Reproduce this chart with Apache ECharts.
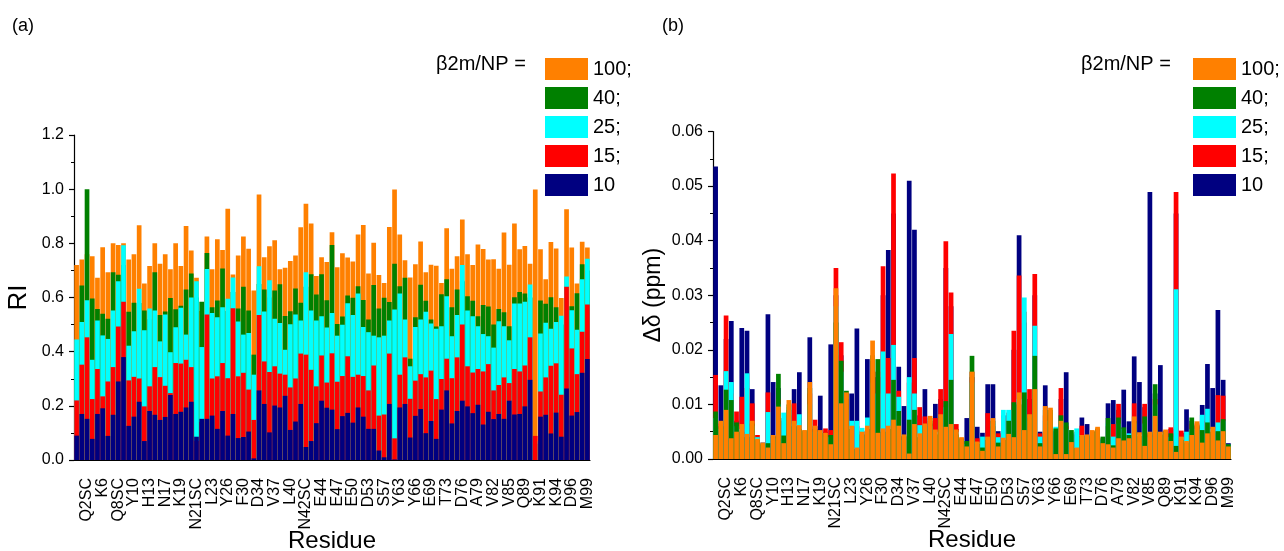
<!DOCTYPE html>
<html><head><meta charset="utf-8">
<script src="https://cdn.jsdelivr.net/npm/echarts@6/dist/echarts.min.js"></script>
<style>html,body{margin:0;padding:0;background:#fff}#c{width:1284px;height:551px}</style>
</head><body><div id="c"></div>
<script>
const categories = ['I1','Q2','Q2SC','R3','T4','K6','I7','Q8','Q8SC',"Q8SC'",'V9','Y10','S11','R12','H13','A15','E16','N17','N17SC','G18','K19','S20','N21','N21SC',"N21SC'",'F22','L23','N24','C25','Y26','V27','S28','F30','H31','S33','D34','I35','E36','V37','D38','L39','L40','K41','N42','N42SC',"N42SC'",'G43','E44','R45','I46','E47','K48','V49','E50','H51','S52','D53','L54','S55','S57','K58','W60','Y63','L64','L65','Y66','Y67','T68','E69','F70','T71','T73','E74','K75','D76','E77','Y78','A79','C80','R81','V82','N83','H84','V85','T86','L87','Q89','Q89SC','N24SC','K91','I92','V93','K94','W95','W95SC','D96','R97','D98','M99'];
const seriesNames = ['100','40','25','15','10'];
const riTicks = [0, 1.2, 0.2];
const ddTicks = [0, 0.06, 0.01];

// Panel (a): RI
const ri100 = [0.72,0.74,0.76,0.752,0.673,0.786,0.693,0.80,0.794,0.80, 0.74,0.76,0.867,0.652,0.716,0.80,0.725,0.76,0.704,0.80, 0.716,0.864,0.774,0.673,0.55,0.825,0.704,0.815,0.775,0.928, 0.685,0.755,0.825,0.78,0.626,0.98,0.749,0.789,0.811,0.704, 0.71,0.735,0.755,0.859,0.946,0.873,0.679,0.749,0.731,0.841, 0.712,0.763,0.748,0.733,0.833,0.868,0.689,0.802,0.683,0.654, 0.86,0.999,0.833,0.738,0.674,0.723,0.807,0.693,0.721,0.717, 0.654,0.856,0.706,0.752,0.888,0.76,0.72,0.796,0.779,0.74, 0.741,0.706,0.84,0.721,0.873,0.778,0.79,0.725,0.999,0.778, 0.667,0.805,0.781,0.598,0.926,0.785,0.652,0.806,0.785];
const ri40 = [0.40,0.644,1.00,0.596,0.558,0.54,0.522,0.693,0.684,0.72, 0.547,0.581,0.58,0.552,0.52,0.693,0.535,0.548,0.598,0.557, 0.57,0.63,0.689,0.6,0.584,0.764,0.564,0.589,0.707,0.55, 0.62,0.559,0.64,0.552,0.389,0.65,0.63,0.6,0.626,0.649, 0.532,0.549,0.633,0.581,0.64,0.686,0.611,0.686,0.59,0.794, 0.502,0.53,0.607,0.599,0.642,0.591,0.519,0.646,0.559,0.599, 0.583,0.725,0.642,0.673,0.374,0.527,0.647,0.588,0.519,0.493, 0.612,0.667,0.564,0.63,0.66,0.605,0.588,0.531,0.572,0.567, 0.5,0.558,0.546,0.494,0.601,0.62,0.615,0.6,0.06,0.589, 0.577,0.601,0.564,0.5,0.6,0.568,0.616,0.723,0.7];
const ri25 = [0.445,0.51,0.59,0.37,0.515,0.46,0.447,0.552,0.66,0.793, 0.422,0.475,0.632,0.479,0.559,0.552,0.438,0.537,0.398,0.49, 0.562,0.463,0.60,0.66,0.417,0.705,0.543,0.527,0.564,0.595, 0.674,0.511,0.463,0.469,0.315,0.715,0.548,0.664,0.522,0.506, 0.407,0.501,0.537,0.515,0.693,0.552,0.515,0.531,0.489,0.543, 0.459,0.499,0.579,0.535,0.615,0.491,0.472,0.459,0.453,0.459, 0.515,0.556,0.615,0.519,0.346,0.491,0.519,0.547,0.504,0.485, 0.494,0.605,0.457,0.535,0.72,0.552,0.531,0.494,0.465,0.457, 0.415,0.512,0.494,0.442,0.578,0.578,0.584,0.648,0.07,0.467, 0.507,0.485,0.51,0.533,0.678,0.553,0.481,0.667,0.743];
const ri15 = [0.22,0.352,0.453,0.225,0.336,0.235,0.29,0.343,0.493,0.584, 0.294,0.307,0.301,0.198,0.272,0.343,0.306,0.274,0.247,0.358, 0.356,0.37,0.343,0.07,0.14,0.537,0.301,0.309,0.358,0.302, 0.56,0.309,0.322,0.26,0.148,0.535,0.364,0.325,0.346,0.319, 0.315,0.268,0.301,0.393,0.389,0.333,0.272,0.386,0.286,0.394, 0.289,0.31,0.383,0.307,0.315,0.31,0.257,0.349,0.164,0.168, 0.393,0.08,0.315,0.379,0.226,0.293,0.317,0.305,0.33,0.225, 0.299,0.374,0.302,0.379,0.5,0.346,0.323,0.336,0.327,0.354, 0.257,0.277,0.305,0.284,0.336,0.327,0.349,0.453,0.089,0.253, 0.305,0.348,0.357,0.241,0.64,0.412,0.317,0.474,0.574];
const ri10 = [0.09,0.17,0.152,0.078,0.17,0.191,0.089,0.167,0.29,0.38, 0.126,0.16,0.215,0.07,0.181,0.167,0.148,0.159,0.24,0.17, 0.178,0.194,0.215,0.086,0.152,0.152,0.164,0.115,0.181,0.09, 0.17,0.081,0.085,0.105,0.006,0.257,0.207,0.102,0.201,0.194, 0.237,0.111,0.142,0.207,0.048,0.07,0.136,0.219,0.193,0.186, 0.114,0.162,0.174,0.138,0.194,0.16,0.115,0.115,0.035,0.01, 0.207,0.002,0.194,0.207,0.083,0.163,0.188,0.099,0.144,0.078, 0.186,0.257,0.135,0.181,0.219,0.198,0.173,0.204,0.131,0.178, 0.151,0.17,0.152,0.219,0.168,0.17,0.198,0.296,0.0,0.16, 0.167,0.098,0.175,0.086,0.264,0.164,0.177,0.322,0.373];

// Panel (b): chemical shift perturbation (ppm)
const dd10 = [0.0536,0.0135,0.022,0.0253,0.007,0.024,0.0235,0.0128,0.004,0.003, 0.0265,0.0141,0.013,0.007,0.009,0.0128,0.0159,0.0045,0.0223,0.006, 0.0116,0.005,0.021,0.030,0.019,0.010,0.012,0.0239,0.005,0.0183, 0.018,0.015,0.030,0.0383,0.045,0.0169,0.0097,0.051,0.042,0.008, 0.0128,0.0065,0.0101,0.011,0.035,0.028,0.0055,0.0035,0.0075,0.015, 0.0059,0.0048,0.0137,0.0137,0.0051,0.008,0.008,0.020,0.041,0.025, 0.011,0.030,0.005,0.0135,0.008,0.005,0.011,0.0159,0.004,0.0045, 0.0076,0.0064,0.0045,0.005,0.0035,0.0102,0.0108,0.009,0.0127,0.0069, 0.0188,0.0141,0.0095,0.0489,0.012,0.0172,0.005,0.0055,0.045,0.0048, 0.0091,0.007,0.006,0.0099,0.0174,0.013,0.0273,0.0145,0.0029];
const dd15 = [0.0154,0.0065,0.0263,0.012,0.0087,0.0114,0.013,0.0102,0.0044,0.0028, 0.0122,0.004,0.011,0.0075,0.008,0.0102,0.0075,0.0048,0.012,0.0072, 0.0045,0.0056,0.0053,0.035,0.0214,0.011,0.006,0.006,0.0052,0.0065, 0.016,0.016,0.0353,0.0185,0.0523,0.0125,0.004,0.014,0.0185,0.0095, 0.0078,0.007,0.0075,0.0128,0.0399,0.0305,0.0064,0.0038,0.003,0.016, 0.0038,0.0038,0.0084,0.006,0.0047,0.0075,0.0085,0.0235,0.0336,0.027, 0.0128,0.0339,0.0047,0.008,0.0075,0.0052,0.013,0.006,0.0045,0.005, 0.0061,0.004,0.005,0.0055,0.0038,0.006,0.0064,0.0101,0.005,0.0045, 0.0102,0.004,0.0101,0.0045,0.011,0.0045,0.0052,0.0058,0.0489,0.0052, 0.0045,0.0065,0.0065,0.007,0.008,0.005,0.0117,0.0116,0.0025];
const dd25 = [0.0075,0.0055,0.0161,0.0141,0.006,0.0055,0.0157,0.006,0.004,0.0029, 0.0086,0.0038,0.010,0.0085,0.0095,0.0065,0.0082,0.005,0.010,0.005, 0.005,0.004,0.004,0.028,0.016,0.009,0.007,0.007,0.0057,0.0076, 0.014,0.012,0.0197,0.012,0.0209,0.0114,0.0035,0.015,0.012,0.0062, 0.006,0.006,0.005,0.0075,0.0095,0.0229,0.005,0.0036,0.0028,0.014, 0.003,0.0041,0.004,0.0065,0.004,0.009,0.009,0.009,0.011,0.0296, 0.007,0.0244,0.0041,0.007,0.0085,0.0059,0.007,0.0055,0.0048,0.0056, 0.004,0.0042,0.0048,0.0052,0.0036,0.0065,0.0041,0.0065,0.0055,0.0047, 0.0065,0.0045,0.0065,0.004,0.010,0.0048,0.005,0.004,0.0311,0.004, 0.005,0.0055,0.0055,0.0081,0.0092,0.0055,0.0067,0.007,0.0026];
const dd40 = [0.0087,0.006,0.0127,0.0108,0.0067,0.005,0.004,0.0065,0.0035,0.0027, 0.0029,0.0042,0.0156,0.0043,0.010,0.006,0.0055,0.0052,0.013,0.0055, 0.0048,0.0045,0.0044,0.025,0.018,0.0125,0.0055,0.0018,0.0045,0.0055, 0.019,0.0183,0.005,0.0055,0.0145,0.0088,0.0042,0.0072,0.009,0.004, 0.006,0.0075,0.0045,0.0078,0.0106,0.0145,0.0045,0.0037,0.0033,0.0189, 0.0028,0.0021,0.0035,0.007,0.003,0.0035,0.007,0.0104,0.010,0.0122, 0.0075,0.0189,0.0029,0.009,0.009,0.0056,0.008,0.0067,0.0053,0.002, 0.0042,0.0043,0.0051,0.0056,0.0041,0.0075,0.0025,0.0076,0.0058,0.0044, 0.007,0.0042,0.0078,0.0048,0.0137,0.0045,0.0051,0.0047,0.0024,0.0035, 0.003,0.0076,0.0062,0.0053,0.0067,0.005,0.0051,0.0073,0.0027];
const dd100 = [0.0044,0.007,0.009,0.0038,0.005,0.0064,0.0046,0.007,0.0037,0.003, 0.0021,0.0044,0.0096,0.0029,0.0108,0.007,0.0062,0.0053,0.0141,0.0061, 0.0053,0.0048,0.0027,0.0313,0.0102,0.0122,0.0061,0.0021,0.005,0.0061, 0.0217,0.0048,0.0056,0.0061,0.0072,0.0061,0.0045,0.001,0.0064,0.0047, 0.0065,0.0079,0.0054,0.0082,0.0059,0.0064,0.0054,0.004,0.0023,0.016, 0.0032,0.0015,0.0041,0.0075,0.0023,0.0039,0.0046,0.004,0.0122,0.0053, 0.0082,0.0128,0.0023,0.0097,0.0094,0.0009,0.007,0.0009,0.0031,0.0021, 0.0044,0.0045,0.0053,0.0059,0.0029,0.0027,0.0021,0.0038,0.0034,0.0038, 0.0078,0.0049,0.0024,0.005,0.0079,0.005,0.0054,0.0033,0.0013,0.0041, 0.0033,0.0044,0.0069,0.003,0.0047,0.0059,0.0034,0.0051,0.0023];

const colors = {'100':'#FF8000','40':'#008000','25':'#00FFFF','15':'#FF0000','10':'#000080'};
const FF = "'Liberation Sans', Arial, sans-serif";
const riData = {'100':ri100,'40':ri40,'25':ri25,'15':ri15,'10':ri10};
const ddData = {'100':dd100,'40':dd40,'25':dd25,'15':dd15,'10':dd10};

function xAxis(grid){
  return {
    type:'category', gridIndex:grid, data:categories,
    axisLine:{lineStyle:{color:'#000',width:1.2}},
    axisTick:{interval:(i)=>i%3===1, length:4, lineStyle:{color:'#000',width:1.2}},
    axisLabel:{interval:0, hideOverlap:false,
      formatter:(v, i)=> (i%3===2 ? v : ''),
      rotate:90, margin:18, fontSize:16, color:'#000', fontFamily:FF},
    name:'Residue', nameLocation:'middle', nameGap:69, nameMoveOverlap:false,
    nameTextStyle:{fontSize:24, color:'#000', fontFamily:FF}
  };
}
function yAxis(grid, t, dec, name, gap, nsize){
  return {
    type:'value', gridIndex:grid, min:t[0], max:t[1], interval:t[2],
    axisLine:{show:true, lineStyle:{color:'#000',width:1.2}},
    axisTick:{show:true, length:5, lineStyle:{color:'#000',width:1.2}},
    minorTick:{show:true, splitNumber:2, length:3, lineStyle:{color:'#000',width:1}},
    splitLine:{show:false},
    axisLabel:{formatter:(v)=>v.toFixed(dec), fontSize:16, color:'#000', margin:10, fontFamily:FF},
    name:name, nameLocation:'middle', nameGap:gap, nameMoveOverlap:false,
    nameTextStyle:{fontSize:nsize, color:'#000', fontFamily:FF}
  };
}
function bars(grid, order, dataMap){
  return order.map(n=>({
    name:n, type:'bar', xAxisIndex:grid, yAxisIndex:grid, data:dataMap[n],
    barGap:'-100%', barCategoryGap:'10%',
    itemStyle:{color:colors[n]}, emphasis:{disabled:true}
  }));
}
function legend(left){
  return {
    data:seriesNames, orient:'vertical', left:left, top:53, icon:'rect',
    itemWidth:43, itemHeight:22, itemGap:7, selectedMode:false,
    formatter:(n)=> n==='10' ? n : n+';',
    textStyle:{fontSize:20, color:'#000', fontFamily:FF}
  };
}

const chart = echarts.init(document.getElementById('c'), null, {renderer:'canvas'});
chart.setOption({
  animation:false,
  backgroundColor:'#fff',
  grid:[
    {left:74, top:135, width:516, height:325, outerBoundsMode:'none', containLabel:false},
    {left:713, top:131.5, width:518, height:327.5, outerBoundsMode:'none', containLabel:false}
  ],
  xAxis:[xAxis(0), xAxis(1)],
  yAxis:[yAxis(0, riTicks, 1, 'RI', 42, 26), yAxis(1, ddTicks, 2, 'Δδ (ppm)', 48, 23)],
  legend:[legend(540), legend(1188)],
  series:[].concat(
    bars(0, ['100','40','25','15','10'], riData),
    bars(1, ['10','15','25','40','100'], ddData)
  ),
  graphic:[
    {type:'text', left:12, top:17, style:{text:'(a)', fontSize:18, fill:'#000', fontFamily:FF}},
    {type:'text', left:662, top:17, style:{text:'(b)', fontSize:18, fill:'#000', fontFamily:FF}},
    {type:'text', left:436, top:54, style:{text:'β2m/NP =', fontSize:20, fill:'#000', fontFamily:FF}},
    {type:'text', left:1081, top:54, style:{text:'β2m/NP =', fontSize:20, fill:'#000', fontFamily:FF}}
  ]
});
</script>
</body></html>
